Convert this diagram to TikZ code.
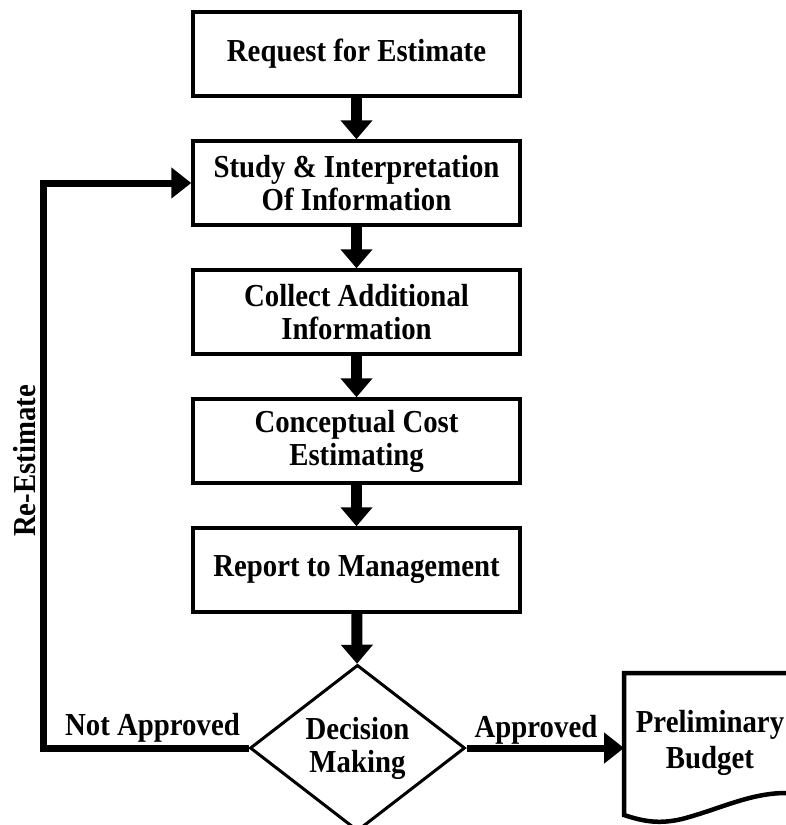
\documentclass[tikz,border=0pt]{standalone}
\usepackage{fontspec}
\setmainfont{Liberation Serif}[FakeStretch=0.9]
\usetikzlibrary{arrows.meta,shapes.geometric}
\begin{document}
\begin{tikzpicture}[x=1pt,y=-1pt,
  every node/.style={font=\fontsize{32}{33}\selectfont\bfseries, align=center},
  stepbox/.style={draw, line width=3.5pt, minimum width=327pt, minimum height=84pt, inner sep=0pt},
  decbox/.style={draw, diamond, line width=3pt, minimum width=215pt, minimum height=152pt, inner sep=0pt},
  down/.style={line width=11pt, -{Triangle[width=31pt,length=19pt]}},
  side/.style={line width=7pt, -{Triangle[width=30pt,length=20pt]}}]
\clip (0,0) rectangle (786,825);
\node[stepbox] (box0) at (356.5,54) {Request for Estimate};
\node[stepbox] (box1) at (356.5,183) {Study \& Interpretation\\Of Information};
\node[stepbox] (box2) at (356.5,312) {Collect Additional\\Information};
\node[stepbox] (box3) at (356.5,441) {Conceptual Cost\\Estimating};
\node[stepbox] (box4) at (356.5,570) {Report to Management};
\node[decbox] (dec) at (357.5,748) {Decision\\Making};
\draw[down](box0) -- (box1);
\draw[down](box1) -- (box2);
\draw[down](box2) -- (box3);
\draw[down](box3) -- (box4);
\draw[down](box4) -- (dec);
% re-estimate loop
\draw[side](dec.west) -- ++(-205,0) |- (box1.west);
\node[anchor=base] (notok) at (152.5,735) {Not Approved};
\node[rotate=90, anchor=base] (reest) at (35,461) {Re-Estimate};
% preliminary budget
\node[font=\fontsize{32}{36}\selectfont\bfseries] (doc) at (710,743) {Preliminary\\Budget};
\coordinate (docin) at (624,748);
\draw[line width=4.5pt] (810,673) -- (624,673) -- (624,815)
  .. controls (645,822) and (660,824) .. (682,819)
  .. controls (720,809) and (750,793) .. (786,793) -- (810,793);
\draw[side](dec.east) -- (docin);
\node[anchor=base] (ok) at (536,737) {Approved};
\end{tikzpicture}
\end{document}
